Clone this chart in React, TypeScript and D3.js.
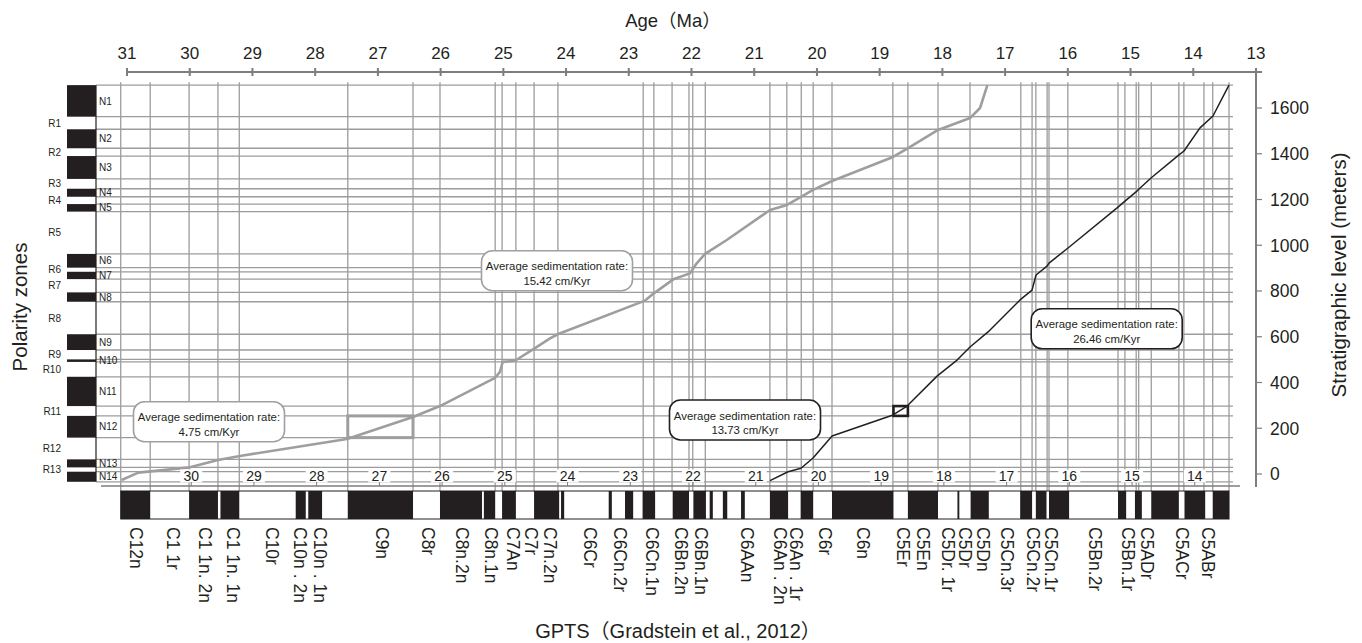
import React from 'react';
import * as d3 from 'd3';

// age axis (Ma)
const ageTicks = [31, 30, 29, 28, 27, 26, 25, 24, 23, 22, 21, 20, 19, 18, 17, 16, 15, 14, 13];
const ageTicksBottom = [30, 29, 28, 27, 26, 25, 24, 23, 22, 21, 20, 19, 18, 17, 16, 15, 14];
// stratigraphic level (m)
const depthTicks = [0, 200, 400, 600, 800, 1000, 1200, 1400, 1600];

// magnetostratigraphic zones of the section, top of each zone in meters
const zoneNames = ['N1', 'R1', 'N2', 'R2', 'N3', 'R3', 'N4', 'R4', 'N5', 'R5', 'N6', 'R6', 'N7', 'R7',
  'N8', 'R8', 'N9', 'R9', 'N10', 'R10', 'N11', 'R11', 'N12', 'R12', 'N13', 'R13', 'N14'];
const zoneTops = [1700, 1562, 1507, 1424, 1390, 1290, 1247, 1212, 1180, 1147, 962, 902, 884, 852,
  794, 753, 611, 542, 501, 490, 425, 297, 254, 159, 64, 29, 10];
const sectionBase = -34;

// GPTS chron boundaries (Ma), old -> young, starting with a normal chron (C12n)
const gptsBounds = [31.10, 30.63, 30.01, 29.55, 29.51, 29.21, 28.31, 28.15, 28.11, 27.89, 27.48, 26.44,
  26.01, 25.34, 25.31, 25.13, 25.02, 24.80, 24.51, 24.11, 24.08, 24.03, 23.32, 23.27, 23.06, 22.93,
  22.78, 22.58, 22.30, 22.04, 21.97, 21.77, 21.71, 21.66, 21.50, 21.43, 21.21, 21.15, 20.75, 20.46,
  20.26, 20.06, 19.76, 18.78, 18.55, 18.07, 17.76, 17.73, 17.55, 17.26, 16.76, 16.57, 16.51, 16.34,
  16.30, 15.98, 15.20, 15.07, 14.93, 14.82, 14.67, 14.23, 14.14, 13.81, 13.69, 13.43];

// correlation tie lines (Ma)
const gridAges = [31.10, 30.63, 30.01, 29.55, 29.21, 27.48, 26.44, 26.01, 25.13, 25.02, 24.80, 24.51,
  24.13, 22.77, 22.60, 22.31, 22.04, 21.98, 21.78, 20.75, 20.48, 20.25, 20.06, 19.76, 18.79, 18.55,
  18.07, 17.56, 16.75, 16.57, 16.51, 16.33, 16.30, 16.00, 15.20, 15.09, 14.91, 14.87, 14.67, 14.23,
  14.15, 13.83, 13.69, 13.43];

const chronNames = ['C12n', 'C1 1r', 'C1 1n. 2n', 'C1 1n. 1n', 'C10r', 'C10n . 2n', 'C10n . 1n', 'C9n',
  'C8r', 'C8n.2n', 'C8n.1n', 'C7An', 'C7r', 'C7n.2n', 'C6Cr', 'C6Cn.2r', 'C6Cn.1n', 'C6Bn.2n',
  'C6Bn.1n', 'C6AAn', 'C6An . 2n', 'C6An . 1r', 'C6r', 'C6n', 'C5Er', 'C5En', 'C5Dr. 1r', 'C5Dr',
  'C5Dn', 'C5Cn.3r', 'C5Cn.2r', 'C5Cn.1r', 'C5Bn.2r', 'C5Bn.1r', 'C5ADr', 'C5ACr', 'C5ABr'];
const chronNameAges = [30.85, 30.27, 29.76, 29.31, 28.69, 28.24, 27.92, 26.94, 26.20, 25.66, 25.19,
  24.84, 24.55, 24.26, 23.62, 23.14, 22.63, 22.16, 21.84, 21.12, 20.59, 20.33, 19.87, 19.27, 18.62,
  18.30, 17.91, 17.64, 17.35, 16.97, 16.55, 16.26, 15.57, 15.04, 14.74, 14.18, 13.76];

// age-depth models
const grayAges = [31.085, 30.82, 29.996, 29.549, 29.198, 27.492, 26.44, 26.01, 25.133, 25.053, 25.01,
  24.814, 24.495, 24.256, 24.123, 22.741, 22.634, 22.29, 22.024, 21.917, 21.784, 21.438, 20.748,
  20.477, 20.254, 20.062, 19.759, 18.787, 18.547, 18.069, 17.559, 17.4, 17.283];
const grayDepths = [-26, 6, 29, 61, 79, 153, 249, 297, 420, 447, 490, 495, 550, 593, 612, 758, 783,
  851, 877, 921, 962, 1023, 1154, 1176, 1211, 1242, 1281, 1386, 1425, 1504, 1556, 1600, 1700];
const blackAges = [20.748, 20.461, 20.254, 20.062, 19.759, 18.787, 18.563, 18.085, 17.766, 17.559,
  17.272, 16.762, 16.571, 16.507, 16.332, 16.3, 15.997, 15.2, 15.089, 14.913, 14.865, 14.674, 14.228,
  14.148, 13.893, 13.686, 13.431];
const blackDepths = [-29, 10, 25, 70, 166, 258, 297, 428, 498, 555, 621, 761, 804, 870, 909, 922, 988,
  1167, 1193, 1233, 1246, 1294, 1395, 1412, 1513, 1565, 1700];

const rates = ['4.75', '15.42', '13.73', '26.46'];

const INK = '#231f20';
const GRID = '#9c9c9c';
const AXIS = '#7d7d7d';
const FONT = '"Liberation Sans", Arial, Helvetica, "Noto Sans CJK SC", sans-serif';

function RateBox({ cx, cy, rate, stroke }: { cx: number; cy: number; rate: string; stroke: string }) {
  const [a, b] = rate.split('.');
  return (
    <g>
      <rect x={cx - 75.5} y={cy - 20} width={151} height={40} rx={11} fill="#fff" stroke={stroke} strokeWidth={1.6} />
      <text x={cx} y={cy - 0.5} textAnchor="middle" fontSize={11.4} fill={INK}>Average sedimentation rate:</text>
      <text x={cx} y={cy + 14} textAnchor="middle" fontSize={11.4} fill={INK}>
        {a}<tspan fontWeight="bold">.</tspan>{b} cm/Kyr
      </text>
    </g>
  );
}

export default function App() {
  const x = d3.scaleLinear().domain([31, 13]).range([127, 1256]);
  const y = d3.scaleLinear().domain([0, 1600]).range([474, 108]);

  const plotLeft = 96;
  const plotRight = 1233;
  const colLeft = 67;
  const barTop = 491;
  const barBottom = 519;
  const axisY = 72;
  const axisX = 1256;

  const zoneBounds = [...zoneTops, sectionBase];
  const zones = zoneNames.map((name, i) => ({
    name, top: zoneBounds[i], bottom: zoneBounds[i + 1], normal: name[0] === 'N',
  }));
  const chrons = gptsBounds.slice(0, -1).map((a, i) => ({ old: a, young: gptsBounds[i + 1], normal: i % 2 === 0 }));

  const line = d3.line<[number, number]>().x(d => x(d[0])).y(d => y(d[1]));
  const grayPath = line(grayAges.map((a, i) => [a, grayDepths[i]] as [number, number]));
  const blackPath = line(blackAges.map((a, i) => [a, blackDepths[i]] as [number, number]));

  const c9n = chrons[10];
  const c5er = chrons[43];
  const n12 = zones[zoneNames.indexOf('N12')];
  const r11 = zones[zoneNames.indexOf('R11')];

  return (
    <svg width={1362} height={643} style={{ position: 'absolute', left: 0, top: 0, background: '#fff' }}
      fontFamily={FONT}>
      <rect width={1362} height={643} fill="#fff" />

      {/* horizontal tie lines at zone boundaries */}
      {zoneBounds.map((d, i) => (
        <line key={'h' + i} x1={plotLeft} x2={plotRight} y1={y(d)} y2={y(d)} stroke={GRID} strokeWidth={1.3} />
      ))}
      {/* vertical tie lines at chron boundaries */}
      {gridAges.map((a, i) => (
        <line key={'v' + i} x1={x(a)} x2={x(a)} y1={y(1700) - 3} y2={barTop} stroke={GRID} strokeWidth={1.3} />
      ))}

      {/* polarity column */}
      {zones.filter(z => z.normal).map(z => (
        <rect key={z.name} x={colLeft} width={plotLeft - colLeft} y={y(z.top)} height={y(z.bottom) - y(z.top)} fill={INK} />
      ))}
      <line x1={plotLeft} x2={plotLeft} y1={y(1700)} y2={y(sectionBase)} stroke={INK} strokeWidth={1.2} />
      {zones.map(z => (
        <text key={'l' + z.name} x={z.normal ? 99 : 61} y={(y(z.top) + y(z.bottom)) / 2} dy="0.36em"
          textAnchor={z.normal ? 'start' : 'end'} fontSize={10} fill={INK}>{z.name}</text>
      ))}
      <text transform="translate(20,307) rotate(-90)" textAnchor="middle" dy="0.35em" fontSize={20.5} fill={INK}>Polarity zones</text>

      {/* age-depth curves */}
      <path d={grayPath ?? ''} fill="none" stroke="#9e9e9e" strokeWidth={2.6} strokeLinejoin="round" />
      <path d={blackPath ?? ''} fill="none" stroke={INK} strokeWidth={1.5} strokeLinejoin="round" />

      {/* highlighted correlations */}
      <rect x={x(c9n.old)} width={x(c9n.young) - x(c9n.old)} y={y(n12.top)} height={y(n12.bottom) - y(n12.top)}
        fill="none" stroke="#9e9e9e" strokeWidth={3} />
      <rect x={x(c5er.old)} width={x(c5er.young) - x(c5er.old)} y={y(r11.top)} height={y(r11.bottom) - y(r11.top)}
        fill="none" stroke={INK} strokeWidth={2.6} />

      <RateBox cx={209} cy={421.7} rate={rates[0]} stroke="#a0a0a0" />
      <RateBox cx={557} cy={270.7} rate={rates[1]} stroke="#a0a0a0" />
      <RateBox cx={745} cy={420} rate={rates[2]} stroke={INK} />
      <RateBox cx={1106.7} cy={328.8} rate={rates[3]} stroke={INK} />

      {/* bottom age axis */}
      <line x1={101} x2={1240} y1={486} y2={486} stroke={AXIS} strokeWidth={1.6} />
      {ageTicksBottom.map(t => (
        <g key={'b' + t} transform={`translate(${x(t) + 1.5},0)`}>
          <rect x={-11} y={469.5} width={22} height={13} fill="#fff" />
          <line y1={482} y2={486} stroke={AXIS} strokeWidth={1} />
          <text y={481} textAnchor="middle" fontSize={14} fill={INK}>{t}</text>
        </g>
      ))}

      {/* GPTS bar */}
      {chrons.filter(c => c.normal).map((c, i) => (
        <rect key={'c' + i} x={x(c.old)} width={x(c.young) - x(c.old)} y={barTop} height={barBottom - barTop} fill={INK} />
      ))}
      <rect x={x(gptsBounds[0])} width={x(gptsBounds[gptsBounds.length - 1]) - x(gptsBounds[0])} y={barTop}
        height={barBottom - barTop} fill="none" stroke={INK} strokeWidth={1} />
      {chronNames.map((n, i) => (
        <text key={'n' + i} transform={`translate(${x(chronNameAges[i])},527) rotate(90)`} dy="0.35em"
          fontSize={17.5} fill={INK}>{n}</text>
      ))}
      <text x={678} y={638} textAnchor="middle" fontSize={20} fill={INK}>GPTS（Gradstein et al., 2012）</text>

      {/* top age axis */}
      <line x1={x(31)} x2={1262} y1={axisY} y2={axisY} stroke={AXIS} strokeWidth={2} />
      {ageTicks.map(t => (
        <g key={'t' + t} transform={`translate(${x(t)},0)`}>
          <line y1={axisY - 4} y2={axisY + 4} stroke={AXIS} strokeWidth={2} />
          <text y={59} textAnchor="middle" fontSize={17} fill={INK}>{t}</text>
        </g>
      ))}
      <text x={673} y={27} textAnchor="middle" fontSize={18.5} fill={INK}>Age（Ma）</text>

      {/* right depth axis */}
      <line x1={axisX} x2={axisX} y1={axisY} y2={487} stroke={AXIS} strokeWidth={2} />
      {depthTicks.map(t => (
        <g key={'d' + t} transform={`translate(0,${y(t)})`}>
          <line x1={axisX} x2={axisX + 6} stroke={AXIS} strokeWidth={1.2} />
          <text x={1270} dy="0.36em" fontSize={17.5} fill={INK}>{t}</text>
        </g>
      ))}
      <text transform="translate(1339,275) rotate(-90)" textAnchor="middle" dy="0.35em" fontSize={20.5} fill={INK}>
        Stratigraphic level (meters)
      </text>
    </svg>
  );
}
